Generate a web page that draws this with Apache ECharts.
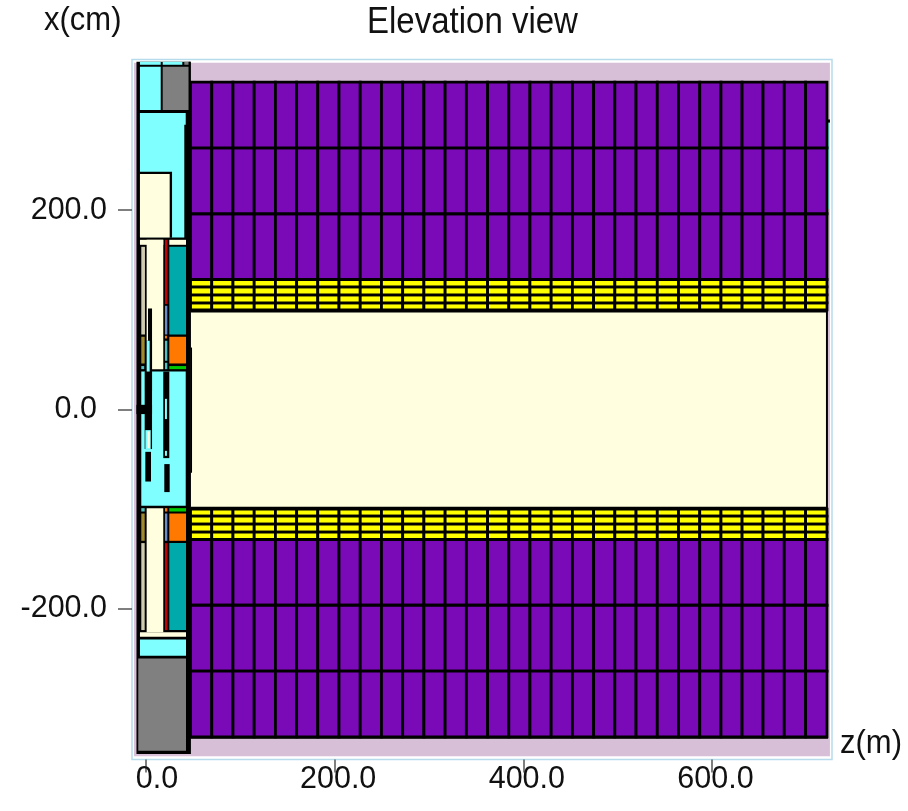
<!DOCTYPE html>
<html>
<head>
<meta charset="utf-8">
<style>html,body{margin:0;padding:0;background:#fff}#c{width:908px;height:811px}</style>
<script src="https://cdn.jsdelivr.net/npm/echarts@6/dist/echarts.min.js"></script>
</head>
<body>
<div id="c"></div>
<script>
// Axis ticks
const zTicks = [0, 200, 400, 600];
const xTicks = [-200, 0, 200];
// Module boundaries along z (m)
const zEdges = [47.2,69.7,92.2,114.7,137.2,159.7,182.1,204.6,227.1,249.6,272.1,294.6,317.1,339.6,362.1,384.6,407,429.5,452,474.5,497,519.5,542,564.5,587,609.5,631.9,654.1,676.6,699.2,721.9];
// Layer boundaries along x (cm), mirrored for the lower half
const purpleEdges = [130.5,196.5,262.5,328.5];
const yellowEdges = [100,107,115,123,130.5];
// Envelope pieces [z0,z1,x0,x1,colour name]
const envelope = [
  [-12.7,725,-348,348,'thistle'],
  [47.4,722.9,201.4,-330,'pale'],
  [722.9,725,291.1,287.8,'black'],
  [722.9,725,287.8,201.4,'cyan'],
  [47.4,722.9,329.5,-330.5,'black']
];
// Central absorber, drawn over the module layers
const coreBlocks = [
  [47.4,720.8,97.4,-97.6,'cream'],
  [47.4,48.8,62.2,-63.5,'black']
];
// Inner detector pieces [z0,z1,x0,x1,colour name]
const innerBlocks = [
  [-10.1,47.4,349,-345.9,'black'],
  [-6.4,15.6,349,346,'cyan'],
  [17.7,38.5,349,346,'cyan'],
  [40.6,45.3,349,346,'gray'],
  [-6.4,15.6,344,300.5,'cyan'],
  [17.7,45.3,344,300.5,'gray'],
  [-6.4,42.1,297.5,285.8,'cyan'],
  [-6.4,40.6,297.5,172.6,'cyan'],
  [-6.4,27.6,238.6,172.3,'black'],
  [-6.4,25.1,236.3,172.6,'cream'],
  [-6.4,18.3,170.3,165.3,'cream'],
  [24.7,42.4,170.3,165.3,'cream'],
  [0.7,18.3,170.3,40.5,'cream'],
  [-5,-1.1,163.3,75.3,'ltan'],
  [2.1,6.4,101.4,40.5,'black'],
  [20.1,22.6,170.3,105.8,'red'],
  [20.1,22.6,104.1,75.3,'blue'],
  [20.1,22.2,74,71.3,'orange'],
  [20.1,22.6,69,48.9,'lteal'],
  [20.1,22.6,46.9,40.5,'lteal'],
  [24.7,42.4,163.3,75.3,'teal'],
  [24.7,42.4,73,46.2,'orange'],
  [24.7,42.4,43.6,40.5,'green'],
  [-5,-1.4,73,46.2,'tan'],
  [-5,-1.9,43.6,40.5,'lteal'],
  [-5,42.1,38.1,-96.7,'cyan'],
  [-1.1,6.4,69,18.1,'black'],
  [0.7,3.9,69,18.1,'cyan'],
  [-1.4,6.4,38.1,-39.7,'black'],
  [-10.1,6.4,4.7,-4.6,'black'],
  [18.3,24.7,38.1,-48.8,'black'],
  [20.1,22.2,10.7,-9.6,'cyan'],
  [20.1,22.2,-41.5,-46.5,'cyan'],
  [-0.7,5,-20.7,-39.7,'cyan'],
  [1.6,3.9,-22,-38.7,'cream'],
  [-0.7,5.3,-42.5,-72.3,'black'],
  [19.4,25.1,-54.8,-82.9,'black'],
  [-5,-1.4,-99,-102.4,'lteal'],
  [0.7,18.3,-99,-223.7,'cream'],
  [20.1,22.6,-99,-102.4,'orange'],
  [24.7,42.4,-99,-102.4,'green'],
  [-5,-1.4,-104.4,-131.8,'tan'],
  [20.1,22.6,-104.4,-131.8,'blue'],
  [24.7,42.4,-104.4,-131.8,'orange'],
  [-5,-1.4,-134.1,-221.4,'ltan'],
  [20.1,22.6,-134.1,-221.4,'red'],
  [24.7,42.4,-134.1,-221.4,'teal'],
  [-6.4,42.4,-223.7,-228,'cream'],
  [-6.4,42.4,-230.9,-247.2,'cyan'],
  [-8.2,42.4,-249.9,-342.6,'gray'],
  [45.3,47.4,349,-345.9,'black']
];
const palette = {
  thistle:'#d8bfd8', pale:'#f6f0f6', black:'#000000', cyan:'#7fffff', gray:'#808080',
  cream:'#ffffe0', ltan:'#cfcbb0', tan:'#a08a30', red:'#c80000', blue:'#6a8cc8',
  orange:'#ff7800', lteal:'#50c0c0', teal:'#00aaaa', green:'#00c800',
  purple:'#7a0ab8', yellow:'#ffff00'
};

const rects = [];
envelope.forEach(r => rects.push({r, fill: r[4], line: 0}));
function addLayers(edges, name) {
  for (let i = 0; i + 1 < edges.length; i++) {
    for (let j = 0; j + 1 < zEdges.length; j++) {
      rects.push({r:[zEdges[j], zEdges[j+1], edges[i], edges[i+1]], fill:name, line:2.8});
      rects.push({r:[zEdges[j], zEdges[j+1], -edges[i], -edges[i+1]], fill:name, line:2.8});
    }
  }
}
addLayers(purpleEdges, 'purple');
addLayers(yellowEdges, 'yellow');
coreBlocks.forEach(r => rects.push({r, fill: r[4], line: 0}));
innerBlocks.forEach(r => rects.push({r, fill: r[4], line: 0}));

const fontFamily = '"Liberation Sans", Arial, sans-serif';
const labelColor = '#111';
const chart = echarts.init(document.getElementById('c'), null, {renderer:'canvas'});
chart.setOption({
  animation: false,
  backgroundColor: '#ffffff',
  graphic: [
    {type:'text', x:44, y:4, scaleY:1.1, style:{text:'x(cm)', font:'31px "Liberation Sans"', fill:labelColor}},
    {type:'text', x:367, y:5, scaleY:1.1, style:{text:'Elevation view', font:'33px "Liberation Sans"', fill:labelColor}},
    {type:'text', x:840, y:727, scaleY:1.1, style:{text:'z(m)', font:'31px "Liberation Sans"', fill:labelColor}}
  ],
  grid: {left:132, top:59.5, width:700, height:700, show:true, backgroundColor:'#ffffff', borderColor:'#b6dcec', borderWidth:1.5},
  xAxis: {
    type:'value', min:-14.84, max:727.2, position:'bottom', splitLine:{show:false},
    axisLine:{show:false, onZero:false},
    axisTick:{show:true, length:13, customValues:zTicks, lineStyle:{color:'#555', width:1.5}},
    axisLabel:{show:true, margin:5, customValues:zTicks, hideOverlap:false, showMinLabel:true, showMaxLabel:true,
      formatter:v => v === 0 ? '{zero|0.0}' : '{n|' + v.toFixed(1) + '}',
      rich:{zero:{padding:[0,0,0,22], fontSize:30.5, fontFamily, color:labelColor}, n:{padding:[0,0,0,7], fontSize:30.5, fontFamily, color:labelColor}},
      fontSize:30.5, fontFamily, color:labelColor}
  },
  yAxis: {
    type:'value', min:-351.3, max:351.3, position:'left', splitLine:{show:false},
    axisLine:{show:false, onZero:false},
    axisTick:{show:true, length:14, customValues:xTicks, lineStyle:{color:'#555', width:1.5}},
    axisLabel:{show:true, margin:25, customValues:xTicks, hideOverlap:false,
      formatter:v => v === 0 ? '{zero|0.0}' : '{n|' + v.toFixed(1) + '}',
      rich:{zero:{padding:[0,10,0,0], fontSize:30.5, fontFamily, color:labelColor}, n:{fontSize:30.5, fontFamily, color:labelColor}},
      fontSize:30.5, fontFamily, color:labelColor}
  },
  series: [{
    type:'custom',
    coordinateSystem:'cartesian2d',
    clip:false,
    progressive:0,
    silent:true,
    encode:{x:[0,1], y:[2,3]},
    data: rects.map(o => o.r.slice(0,4)),
    renderItem(params, api) {
      const o = rects[params.dataIndex];
      const a = api.coord([api.value(0), api.value(2)]);
      const b = api.coord([api.value(1), api.value(3)]);
      return {
        type:'rect',
        shape:{x:Math.min(a[0],b[0]), y:Math.min(a[1],b[1]), width:Math.abs(b[0]-a[0]), height:Math.abs(b[1]-a[1])},
        style:{fill:palette[o.fill], stroke:o.line ? '#000' : null, lineWidth:o.line}
      };
    }
  }]
});
</script>
</body>
</html>
